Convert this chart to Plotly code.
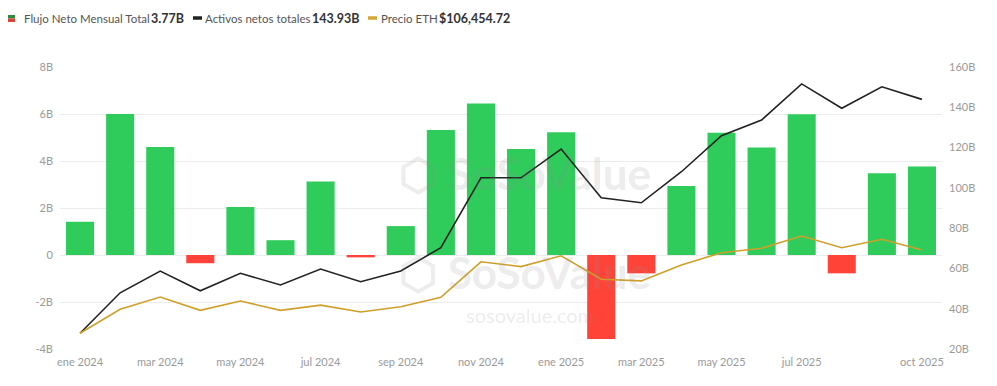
import plotly.graph_objects as go

months = ["2024-01", "2024-02", "2024-03", "2024-04", "2024-05", "2024-06",
          "2024-07", "2024-08", "2024-09", "2024-10", "2024-11", "2024-12",
          "2025-01", "2025-02", "2025-03", "2025-04", "2025-05", "2025-06",
          "2025-07", "2025-08", "2025-09", "2025-10"]

# Monthly net flow (billions USD)
net_flow = [1.41, 6.00, 4.60, -0.35, 2.04, 0.63, 3.13, -0.10, 1.23, 5.32, 6.45,
            4.51, 5.22, -3.57, -0.78, 2.94, 5.20, 4.57, 5.99, -0.78, 3.48, 3.77]

# Total net assets (billions USD)
net_assets = [27.8, 47.9, 58.7, 48.9, 57.6, 51.8, 59.7, 53.4, 58.7, 70.3, 105.0,
              105.0, 119.3, 95.1, 92.6, 108.0, 125.9, 133.7, 151.6, 139.5, 150.2, 143.93]

# ETH price line (hidden axis, values in the same scale units)
eth_price = [27.8, 39.7, 45.8, 39.2, 43.8, 39.2, 41.8, 38.4, 41.0, 45.7, 63.3,
             60.9, 66.3, 54.6, 53.8, 61.7, 67.8, 70.0, 76.1, 70.3, 74.5, 69.1]

tick_months = ["2024-01", "2024-03", "2024-05", "2024-07", "2024-09", "2024-11",
               "2025-01", "2025-03", "2025-05", "2025-07", "2025-10"]
tick_labels = ["ene 2024", "mar 2024", "may 2024", "jul 2024", "sep 2024", "nov 2024",
               "ene 2025", "mar 2025", "may 2025", "jul 2025", "oct 2025"]

left_ticks = [-4, -2, 0, 2, 4, 6, 8]
left_labels = ["-4B", "-2B", "0", "2B", "4B", "6B", "8B"]
right_ticks = [20, 40, 60, 80, 100, 120, 140, 160]
right_labels = ["20B", "40B", "60B", "80B", "100B", "120B", "140B", "160B"]

GREEN = "#2fcc5c"
RED = "#ff4338"
BLACK = "#222222"
GOLD = "#cf9f2a"

OFF = 8  # page body margin
W, H = 997 - OFF, 386 - OFF
ML, MR, MT, MB = 60 - OFF, 55, 67 - OFF, 37
PW, PH = W - ML - MR, H - MT - MB


def px(x):
    return (x - OFF - ML) / PW


def py(y):
    return (H - MB - (y - OFF)) / PH


fig = go.Figure()
fig.add_trace(go.Bar(
    x=months, y=net_flow,
    marker=dict(color=[GREEN if v >= 0 else RED for v in net_flow], line=dict(width=0)),
    name="Flujo Neto Mensual Total", yaxis="y"))
fig.add_trace(go.Scatter(
    x=months, y=net_assets, mode="lines", line=dict(color=BLACK, width=1.6),
    name="Activos netos totales", yaxis="y2"))
fig.add_trace(go.Scatter(
    x=months, y=eth_price, mode="lines", line=dict(color=GOLD, width=1.6),
    name="Precio ETH", yaxis="y3"))

font_tick = dict(family="Lato, 'Open Sans', sans-serif", size=11, color="#9a9a9a")

fig.update_layout(
    width=W, height=H,
    margin=dict(l=ML, r=MR, t=MT, b=MB, autoexpand=False),
    paper_bgcolor="white", plot_bgcolor="white",
    showlegend=False, bargap=0.3,
    xaxis=dict(type="category", tickmode="array", tickvals=tick_months, ticktext=tick_labels,
               tickfont=font_tick, showgrid=False, showline=False, ticks="",
               ticklabelstandoff=5, range=[-0.5, len(months) - 0.5]),
    yaxis=dict(range=[-4, 8], tickmode="array", tickvals=left_ticks, ticktext=left_labels,
               tickfont=font_tick, showgrid=True, gridcolor="#ececec", gridwidth=1,
               zeroline=False, showline=False, ticks="", ticklabelstandoff=6),
    yaxis2=dict(range=[20, 160], overlaying="y", side="right", tickmode="array",
                tickvals=right_ticks, ticktext=right_labels, tickfont=font_tick,
                showgrid=False, zeroline=False, showline=False, ticks="", ticklabelstandoff=6),
    yaxis3=dict(range=[20, 160], overlaying="y", side="right", visible=False),
)

# Watermarks
WM = "rgba(140,140,140,0.18)"
fig.add_annotation(x=px(525), y=py(145), xref="paper", yref="paper", text="<b>⬡ SoSoValue</b>",
                   showarrow=False, font=dict(family="Lato, sans-serif", size=44, color=WM))
fig.add_annotation(x=px(525), y=py(300), xref="paper", yref="paper", text="<b>⬡ SoSoValue</b>",
                   showarrow=False, font=dict(family="Lato, sans-serif", size=44, color=WM))
fig.add_annotation(x=px(530), y=py(329), xref="paper", yref="paper", text="sosovalue.com",
                   showarrow=False, font=dict(family="Lato, sans-serif", size=20, color=WM))

# Custom legend
LY = 18
fig.add_shape(type="rect", xref="paper", yref="paper", x0=px(8), x1=px(15), y0=py(15), y1=py(18.5),
              fillcolor="#2e8b3e", line=dict(width=0))
fig.add_shape(type="rect", xref="paper", yref="paper", x0=px(8), x1=px(15), y0=py(18.5), y1=py(22),
              fillcolor="#d9443a", line=dict(width=0))
fig.add_shape(type="line", xref="paper", yref="paper", x0=px(193), x1=px(202), y0=py(LY), y1=py(LY),
              line=dict(color=BLACK, width=3.5))
fig.add_shape(type="line", xref="paper", yref="paper", x0=px(368), x1=px(377), y0=py(LY), y1=py(LY),
              line=dict(color="#d4a634", width=3.5))

legend_items = [(24, "Flujo Neto Mensual Total", False), (151, "3.77B", True),
                (205, "Activos netos totales", False), (312, "143.93B", True),
                (381, "Precio ETH", False), (439, "$106,454.72", True)]
for x0, txt, bold in legend_items:
    fig.add_annotation(x=px(x0), y=py(LY), xref="paper", yref="paper", xanchor="left", yanchor="middle",
                       text=f"<b>{txt}</b>" if bold else txt, showarrow=False, xshift=-2,
                       font=dict(family="Lato, sans-serif", size=12.5 if bold else 11.5,
                                 color="#333333" if bold else "#555555"))

fig.write_html("out.html")
